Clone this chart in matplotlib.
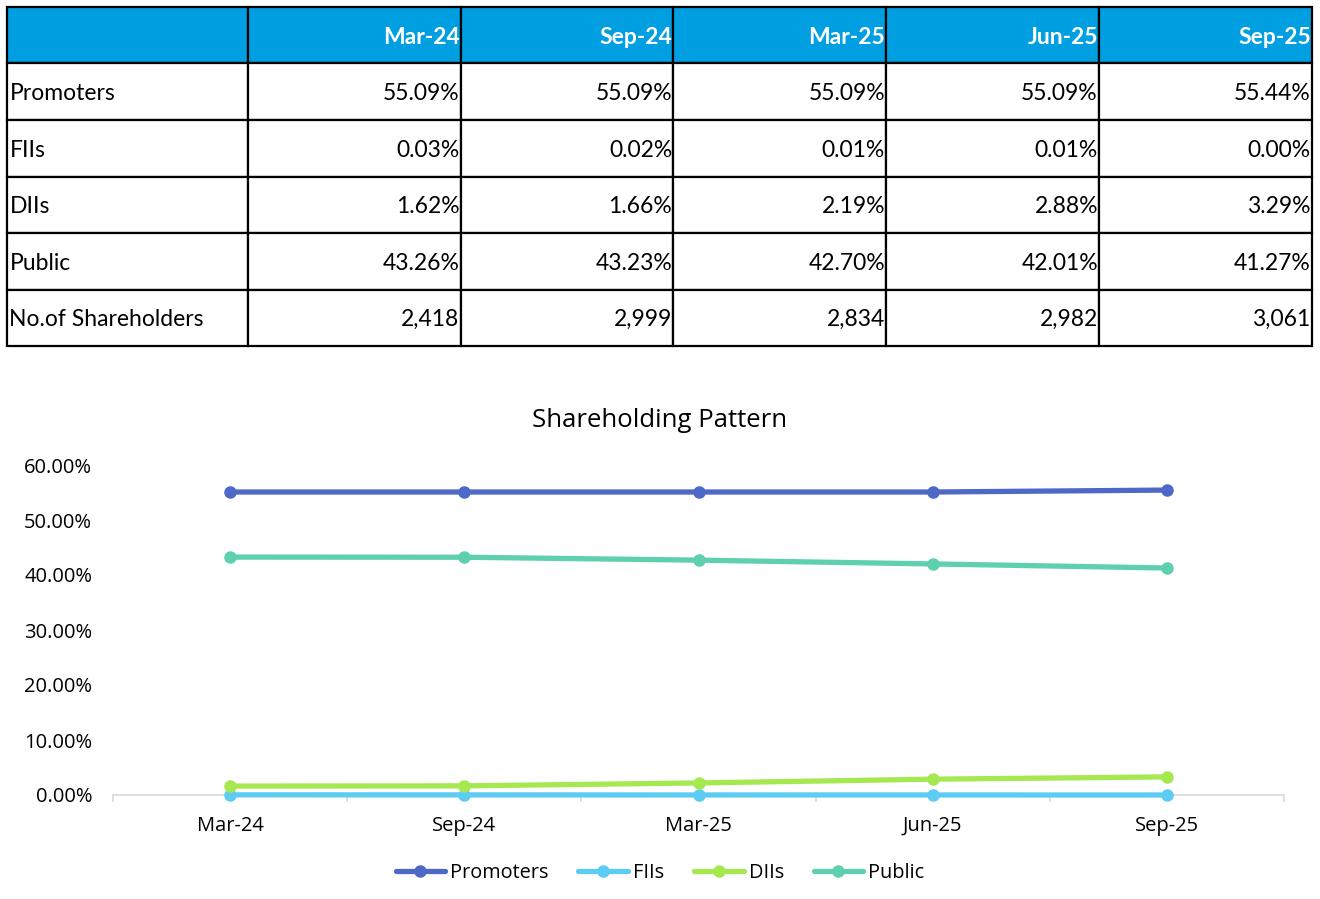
import matplotlib.pyplot as plt
from matplotlib.ticker import FuncFormatter, FixedLocator

periods = ["Mar-24", "Sep-24", "Mar-25", "Jun-25", "Sep-25"]
promoters = [55.09, 55.09, 55.09, 55.09, 55.44]
fiis = [0.03, 0.02, 0.01, 0.01, 0.00]
diis = [1.62, 1.66, 2.19, 2.88, 3.29]
public = [43.26, 43.23, 42.70, 42.01, 41.27]
shareholders = [2418, 2999, 2834, 2982, 3061]

series = [
    ("Promoters", promoters, "#4E68C8"),
    ("FIIs", fiis, "#5DCCF2"),
    ("DIIs", diis, "#A6E850"),
    ("Public", public, "#5ECFAF"),
]

W, H = 1320, 899
fig = plt.figure(figsize=(W / 100, H / 100), dpi=100)

# ---- table ----
tax = fig.add_axes([7 / W, 1 - 346 / H, (1312 - 7) / W, (346 - 7) / H])
tax.axis("off")
rows = [["", *periods]]
for name, vals, _ in series:
    rows.append([name] + [f"{v:.2f}%" for v in vals])
rows.append(["No.of Shareholders"] + [f"{v:,}" for v in shareholders])

col_w = [241] + [213] * 5
tbl = tax.table(cellText=rows, colWidths=[c / sum(col_w) for c in col_w],
                bbox=[0, 0, 1, 1], cellLoc="right")
tbl.auto_set_font_size(False)
for (r, c), cell in tbl.get_celld().items():
    cell.set_linewidth(1.6)
    cell.set_edgecolor("black")
    cell.PAD = 0.006 if c > 0 else 0.01
    txt = cell.get_text()
    txt.set_fontfamily("Lato")
    txt.set_fontsize(16.5)
    # Excel sits text low in the cell
    txt.set_verticalalignment("center_baseline")
    if c == 0:
        txt.set_horizontalalignment("left")
        cell._loc = "left"
    if r == 0:
        cell.set_facecolor("#009FE1")
        txt.set_color("white")
        txt.set_fontweight("bold")

# ---- line chart ----
ax = fig.add_axes([113 / W, 104 / H, (1284 - 113) / W, 330 / H])
x = list(range(len(periods)))
for name, vals, color in series:
    ax.plot(x, vals, color=color, lw=3.8, marker="o", ms=8, label=name,
            solid_capstyle="round", clip_on=False, zorder=3)

ax.set_xlim(-0.5, len(periods) - 0.5)
ax.set_ylim(0, 60)
ax.set_yticks(range(0, 61, 10))
ax.yaxis.set_major_formatter(FuncFormatter(lambda v, p: f"{v:.2f}%"))
ax.set_xticks(x)
ax.set_xticklabels(periods)
ax.xaxis.set_minor_locator(FixedLocator([i - 0.5 for i in range(len(periods) + 1)]))
ax.tick_params(axis="y", length=0, pad=15, labelsize=14.5)
ax.tick_params(axis="x", which="major", length=0, pad=15, labelsize=14.5)
ax.tick_params(axis="x", which="minor", length=5, width=1.2, color="#D9D9D9")
for lab in ax.get_xticklabels() + ax.get_yticklabels():
    lab.set_fontfamily("Open Sans")
for s in ["top", "right", "left"]:
    ax.spines[s].set_visible(False)
ax.spines["bottom"].set_color("#D9D9D9")
ax.spines["bottom"].set_linewidth(1.2)

fig.text(0.5, 1 - 418 / H, "Shareholding Pattern", ha="center", va="center_baseline",
         fontsize=18.5, fontfamily="Open Sans")
fig.legend(loc="center", bbox_to_anchor=(0.5, 26 / H), ncol=4, frameon=False,
           prop={"family": "Open Sans", "size": 14.3}, handlelength=2.5,
           handletextpad=0.25, columnspacing=1.5)

fig.savefig("out.png", dpi=100)
